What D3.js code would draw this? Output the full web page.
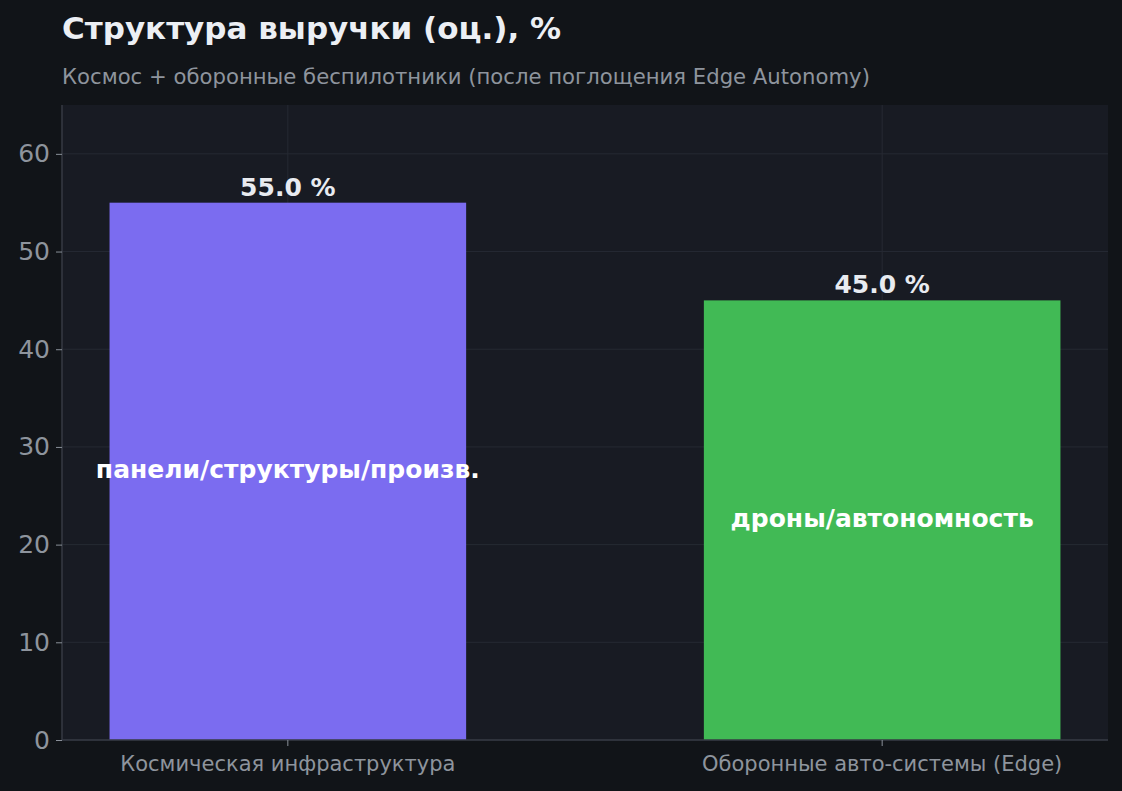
<!DOCTYPE html>
<html>
<head>
<meta charset="utf-8">
<script src="https://cdn.jsdelivr.net/npm/d3@7"></script>
<style>
html,body{margin:0;padding:0;background:#111418;}
svg{display:block;font-family:"DejaVu Sans",sans-serif;}
</style>
</head>
<body>
<svg id="chart" width="1122" height="791"></svg>
<script>
const categories = ["Космическая инфраструктура", "Оборонные авто-системы (Edge)"];
const values = [55.0, 45.0];
const innerLabels = ["панели/структуры/произв.", "дроны/автономность"];
const barColors = ["#7b6cf0", "#41ba55"];
const yTicks = [0, 10, 20, 30, 40, 50, 60];
const titleText = "Структура выручки (оц.), %";
const subtitleText = "Космос + оборонные беспилотники (после поглощения Edge Autonomy)";

const svg = d3.select("#chart");
const W = 1122, H = 791;
const m = {left: 62, right: 14, top: 105, bottom: 51};
const pw = W - m.left - m.right, ph = H - m.top - m.bottom;

svg.append("rect").attr("width", W).attr("height", H).attr("fill", "#111418");

const g = svg.append("g").attr("transform", `translate(${m.left},${m.top})`);
g.append("rect").attr("width", pw).attr("height", ph).attr("fill", "#181b23");

const x = d3.scaleBand().domain(categories).range([0, pw]).paddingInner(0.4).paddingOuter(0.08);
const y = d3.scaleLinear().domain([0, 65]).range([ph, 0]);

// grid
g.selectAll(".hg").data(yTicks).join("line")
  .attr("x1", 0).attr("x2", pw)
  .attr("y1", d => y(d)).attr("y2", d => y(d))
  .attr("stroke", "#262a33").attr("stroke-width", 1);
g.selectAll(".vg").data(categories).join("line")
  .attr("x1", d => x(d) + x.bandwidth()/2).attr("x2", d => x(d) + x.bandwidth()/2)
  .attr("y1", 0).attr("y2", ph)
  .attr("stroke", "#262a33").attr("stroke-width", 1);

// bars
g.selectAll(".bar").data(values).join("rect")
  .attr("x", (d, i) => x(categories[i]))
  .attr("y", d => y(d))
  .attr("width", x.bandwidth())
  .attr("height", d => ph - y(d))
  .attr("fill", (d, i) => barColors[i]);

// axes
const yAxis = g.append("g").call(d3.axisLeft(y).tickValues(yTicks).tickSize(6).tickPadding(6));
yAxis.select(".domain").attr("stroke", "#363a43").attr("stroke-width", 1.5).attr("d", `M0,0V${ph}`);
yAxis.selectAll(".tick line").attr("stroke", "#8a9099");
yAxis.selectAll(".tick text").attr("fill", "#8e949d").attr("font-size", 25).attr("font-family", "DejaVu Sans");

const xAxis = g.append("g").attr("transform", `translate(0,${ph})`).call(d3.axisBottom(x).tickSize(6).tickPadding(10));
xAxis.select(".domain").attr("stroke", "#363a43").attr("stroke-width", 1.5).attr("d", `M0,0H${pw}`);
xAxis.selectAll(".tick line").attr("stroke", "#8a9099");
xAxis.selectAll(".tick text").attr("fill", "#8e949d").attr("font-size", 21).attr("font-family", "DejaVu Sans");

// value labels
g.selectAll(".vl").data(values).join("text")
  .attr("x", (d, i) => x(categories[i]) + x.bandwidth()/2)
  .attr("y", d => y(d) - 7)
  .attr("text-anchor", "middle")
  .attr("fill", "#e8ebf0").attr("font-weight", "bold").attr("font-size", 25)
  .text(d => d.toFixed(1) + " %");

// inner labels
g.selectAll(".il").data(values).join("text")
  .attr("x", (d, i) => x(categories[i]) + x.bandwidth()/2)
  .attr("y", d => y(d / 2))
  .attr("dy", "0.28em")
  .attr("text-anchor", "middle")
  .attr("fill", "#ffffff").attr("font-weight", "bold").attr("font-size", 25)
  .text((d, i) => innerLabels[i]);

// titles
svg.append("text").attr("x", 62).attr("y", 39)
  .attr("fill", "#eceff4").attr("font-weight", "bold").attr("font-size", 31)
  .text(titleText);
svg.append("text").attr("x", 62).attr("y", 84)
  .attr("fill", "#8e949d").attr("font-size", 21.2)
  .text(subtitleText);
</script>
</body>
</html>
